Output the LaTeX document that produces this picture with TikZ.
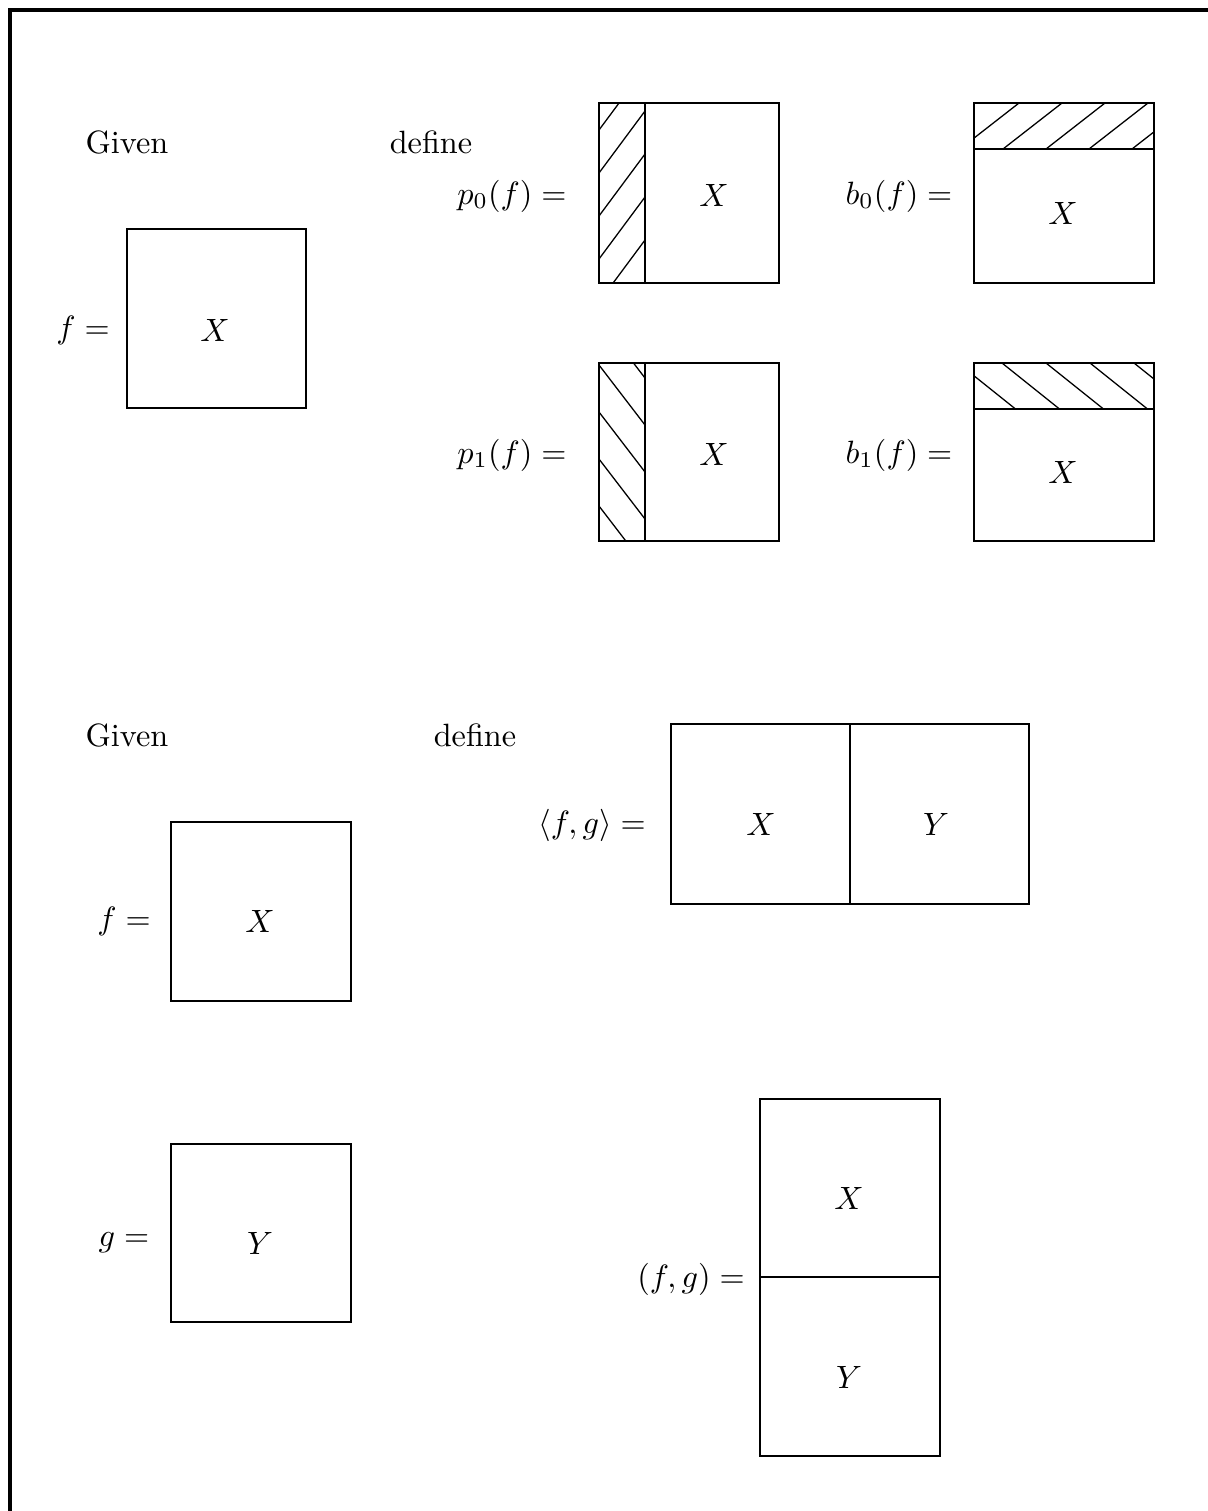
\documentclass[tikz,border=0pt]{standalone}
\usepackage{tikz}

\tikzset{
  frame/.style={line width=1pt, line cap=rect},
  cell/.style={line width=0.6pt, line join=miter},
  hatch/.style={line width=0.4pt},
  lbl/.style={inner sep=0pt, font=\normalsize},
}

\begin{document}
\begin{tikzpicture}[x=0.31pt, y=-0.31pt]

\useasboundingbox (0,0) rectangle (1208,1511);
\draw[frame] (10,1520) -- (10,10) -- (1220,10);

%% ── Top half: projections and bases ─────────────────────────────────────────
\node[lbl] (given1)  at (127,142) {Given};
\node[lbl] (define1) at (431,142) {define};

\node[lbl] (flbl1) at ( 83,330) {$f =$};
\draw[cell] (127,229) rectangle (306,408);
\node[lbl] (fx1) at (215,330) {$X$};

% p0: strip on the left, hatched /
\node[lbl] (p0lbl) at (512,196) {$p_0(f) =$};
\begin{scope}
  \clip (599,103) rectangle (645,283);
  \foreach \c in {130,173,216,259,302}
    \draw[hatch] (599,\c) -- (645,\c-62);
\end{scope}
\draw[cell] (599,103) rectangle (779,283);
\draw[cell] (645,103) -- (645,283);
\node[lbl] (p0x) at (714,195) {$X$};

% b0: strip on top, hatched /
\node[lbl] (b0lbl) at (899,196) {$b_0(f) =$};
\begin{scope}
  \clip (974,103) rectangle (1154,149);
  \foreach \b in {960,1003,1046,1089,1132}
    \draw[hatch] (\b,149) -- (\b+59,103);
\end{scope}
\draw[cell] (974,103) rectangle (1154,283);
\draw[cell] (974,149) -- (1154,149);
\node[lbl] (b0x) at (1063,213) {$X$};

% p1: strip on the left, hatched \
\node[lbl] (p1lbl) at (512,455) {$p_1(f) =$};
\begin{scope}
  \clip (599,363) rectangle (645,541);
  \foreach \c in {318,365,412,459,506}
    \draw[hatch] (599,\c) -- (645,\c+60);
\end{scope}
\draw[cell] (599,363) rectangle (779,541);
\draw[cell] (645,363) -- (645,541);
\node[lbl] (p1x) at (714,454) {$X$};

% b1: strip on top, hatched \
\node[lbl] (b1lbl) at (899,455) {$b_1(f) =$};
\begin{scope}
  \clip (974,363) rectangle (1154,409);
  \foreach \b in {958,1002,1046,1090,1134}
    \draw[hatch] (\b,363) -- (\b+57.5,409);
\end{scope}
\draw[cell] (974,363) rectangle (1154,541);
\draw[cell] (974,409) -- (1154,409);
\node[lbl] (b1x) at (1063,472) {$X$};

%% ── Bottom half: pairing and copairing ──────────────────────────────────────
\node[lbl] (given2)  at (127,735) {Given};
\node[lbl] (define2) at (475,735) {define};

\node[lbl] (flbl2) at (124,921) {$f =$};
\draw[cell] (171,822) rectangle (351,1001);
\node[lbl] (fx2) at (260,921) {$X$};

\node[lbl] (glbl) at (124,1243) {$g =$};
\draw[cell] (171,1144) rectangle (351,1322);
\node[lbl] (gy) at (260,1243) {$Y$};

% <f,g>: side by side
\node[lbl] (pairlbl) at (592,825) {$\langle f, g\rangle =$};
\draw[cell] (671,724) rectangle (1029,904);
\draw[cell, line width=0.8pt] (850,724) -- (850,904);
\node[lbl] (pairx) at (761,824) {$X$};
\node[lbl] (pairy) at (936,824) {$Y$};

% (f,g): stacked
\node[lbl] (copairlbl) at (691,1279) {$(f, g) =$};
\draw[cell] (760,1099) rectangle (940,1456);
\draw[cell, line width=0.8pt] (760,1277) -- (940,1277);
\node[lbl] (copairx) at (849,1198) {$X$};
\node[lbl] (copairy) at (849,1377) {$Y$};

\end{tikzpicture}
\end{document}
